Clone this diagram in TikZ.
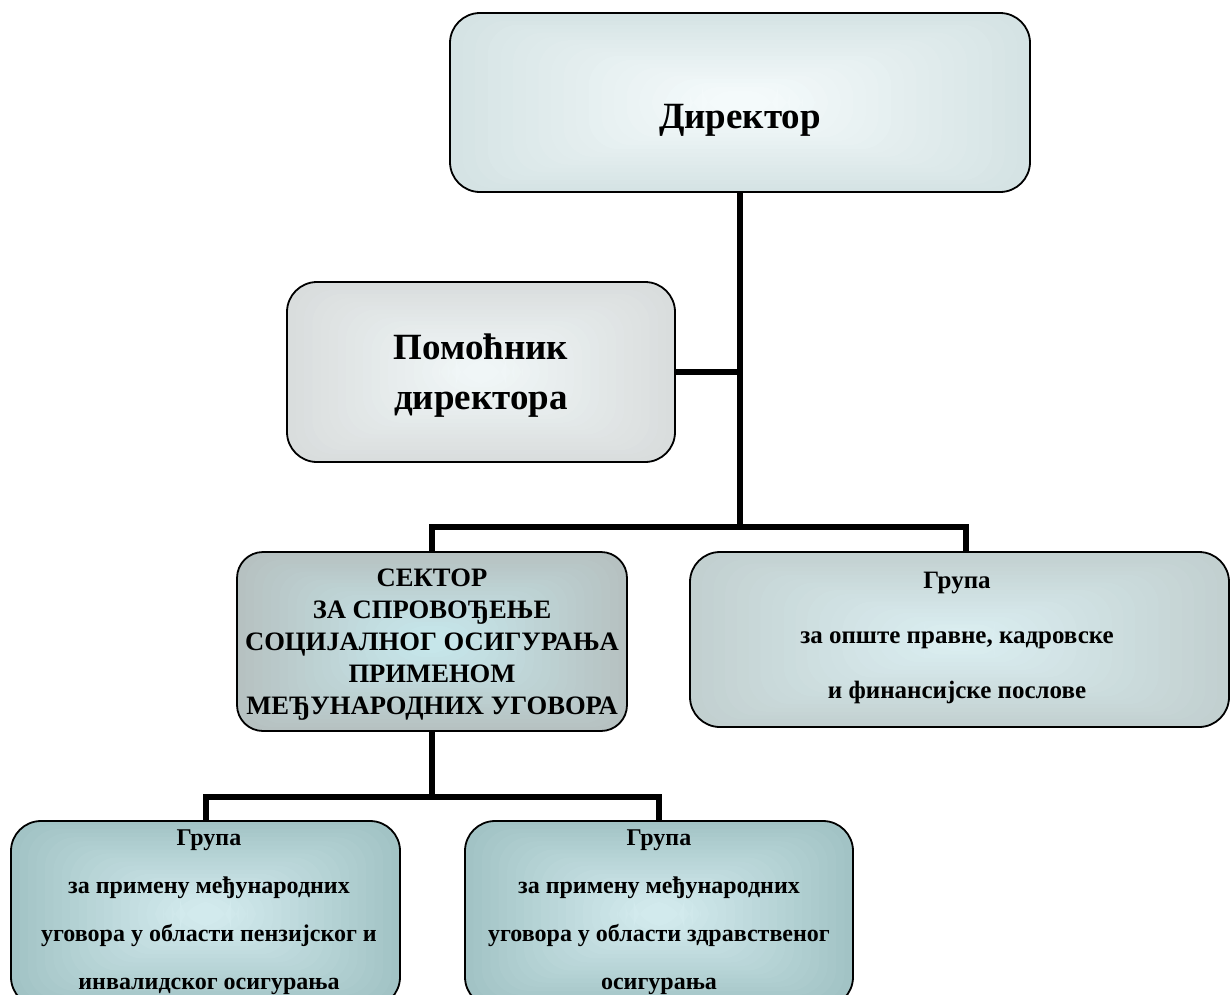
\documentclass[tikz,border=0pt]{standalone}
\usepackage{fontspec}
\setmainfont{Liberation Serif}
\usetikzlibrary{calc}
\definecolor{dirOut}{HTML}{D5E3E4}
\definecolor{dirIn}{HTML}{F4FAFB}
\definecolor{astOut}{HTML}{D9DDDD}
\definecolor{astIn}{HTML}{F0F6F7}
\definecolor{secOut}{HTML}{B6C1C1}
\definecolor{secIn}{HTML}{C6E6EA}
\definecolor{rtOut}{HTML}{C2D0D0}
\definecolor{rtIn}{HTML}{DAEDF0}
\definecolor{grOut}{HTML}{A2C3C5}
\definecolor{grIn}{HTML}{D2EAED}
\begin{document}
\begin{tikzpicture}[x=1pt,y=-1pt,
  box/.style={draw=black, line width=1.8pt, rounded corners=30pt, inner sep=0pt},
  rgrad/.style 2 args={path picture={
    \foreach \i in {0,...,20}{
      \pgfmathtruncatemacro\f{\i*5}
      \fill[#2!\f!#1]
        ($(path picture bounding box.south west)!\i/46!(path picture bounding box.north east)$)
        rectangle
        ($(path picture bounding box.north east)!\i/46!(path picture bounding box.south west)$);
    }}},
  lbl/.style={align=center, inner sep=0pt, font=\bfseries},
  conn/.style={line width=6pt, line join=miter, line cap=butt}]
\useasboundingbox (0,0) rectangle (1230,994);
\clip (0,0) rectangle (1230,994);
% boxes
\node[box, minimum width=580pt, minimum height=179pt, rgrad={dirOut}{dirIn}] (dir) at (740,102.5) {};
\node[box, minimum width=388pt, minimum height=180pt, rgrad={astOut}{astIn}] (ast) at (481,372) {};
\node[box, rounded corners=26pt, minimum width=390pt, minimum height=179pt, rgrad={secOut}{secIn}] (sec) at (432,641.5) {};
\node[box, minimum width=539pt, minimum height=175pt, rgrad={rtOut}{rtIn}] (rt) at (959.5,639.5) {};
\node[box, minimum width=389pt, minimum height=186pt, rgrad={grOut}{grIn}] (gl) at (205.5,914) {};
\node[box, minimum width=388pt, minimum height=186pt, rgrad={grOut}{grIn}] (gr) at (659,914) {};
% labels
\node[lbl, font=\bfseries\fontsize{37}{44}\selectfont] (dirT) at (740,120) {Директор};
\node[lbl, font=\bfseries\fontsize{37}{50}\selectfont] (astT) at (481,376) {Помоћник\\директора};
\node[lbl, font=\bfseries\fontsize{26.6}{32}\selectfont] (secT) at (432,645) {СЕКТОР\\ЗА СПРОВОЂЕЊЕ\\СОЦИЈАЛНОГ ОСИГУРАЊА\\ПРИМЕНОМ\\МЕЂУНАРОДНИХ УГОВОРА};
\node[lbl, font=\bfseries\fontsize{25}{55}\selectfont] (rtT) at (957,638) {Група\\за опште правне, кадровске\\и финансијске послове};
\node[lbl, font=\bfseries\fontsize{24}{48}\selectfont] (glT) at (209,912) {Група\\за примену међународних\\уговора у области пензијског и\\инвалидског осигурања};
\node[lbl, font=\bfseries\fontsize{24}{48}\selectfont] (grT) at (659,912) {Група\\за примену међународних\\уговора у области здравственог\\осигурања};
% connectors
\coordinate (j) at (740,527);
\coordinate (rtin) at (966,552);
\coordinate (k) at (432,797);
\draw[conn] (dir.south) -- (j);
\draw[conn] (ast.east) -- (ast.east -| j);
\draw[conn] (sec.north) |- (j) -| (rtin);
\draw[conn] (sec.south) -- (k);
\draw[conn] (gl.north) |- (k) -| (gr.north);
\end{tikzpicture}
\end{document}
